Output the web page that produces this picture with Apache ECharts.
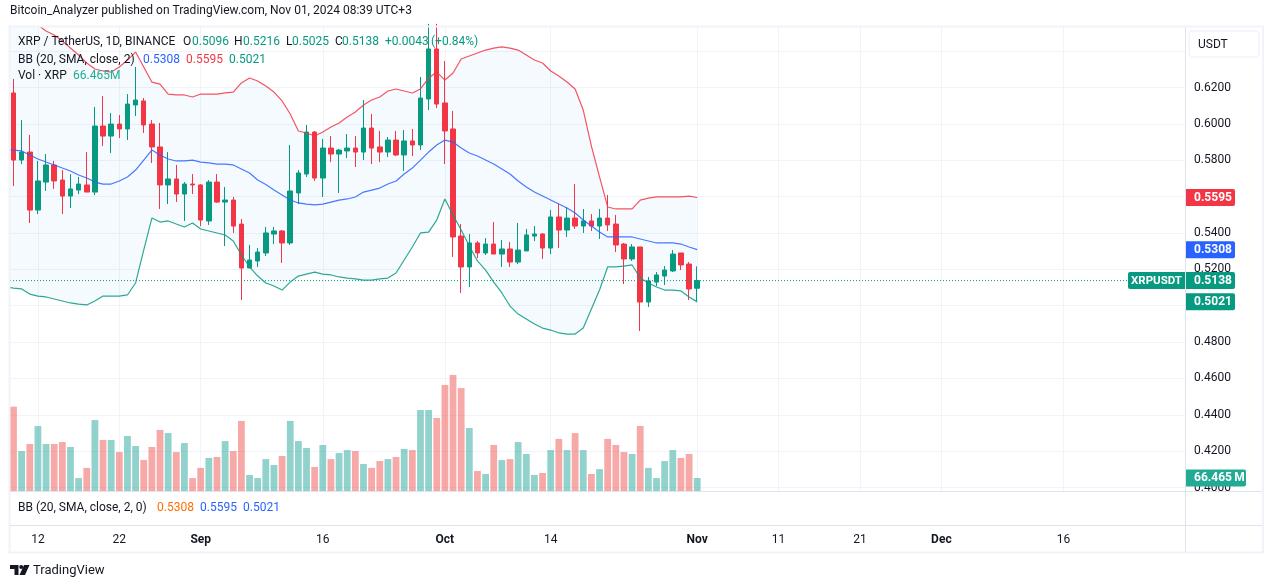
<!DOCTYPE html>
<html>
<head>
<meta charset="utf-8">
<style>html,body{margin:0;padding:0;background:#fff}#main{width:1273px;height:588px}</style>
<script src="https://cdn.jsdelivr.net/npm/echarts@6/dist/echarts.min.js"></script>
</head>
<body>
<div id="main"></div>
<script>
// day index 0 = Aug 9 2024, last candle (84) = Nov 1 2024
const tickDays = [3, 13, 23, 38, 53, 66, 84, 94, 104, 114, 129]
const tickLabels = ['12', '22', 'Sep', '16', 'Oct', '14', 'Nov', '11', '21', 'Dec', '16']
const priceTicks = [0.40, 0.42, 0.44, 0.46, 0.48, 0.50, 0.52, 0.54, 0.56, 0.58, 0.60, 0.62, 0.64]

const opens = [.6170,.5801,.5845,.5526,.5680,.5774,.5691,.5603,.5636,.5664,
  .5625,.5988,.5933,.5999,.5972,.6104,.6126,.5999,.5873,.5664,
  .5697,.5614,.5669,.5664,.5466,.5680,.5570,.5581,.5449,.5207,
  .5246,.5290,.5394,.5411,.5345,.5620,.5724,.5955,.5702,.5867,
  .5834,.5851,.5867,.5845,.5977,.5873,.5845,.5911,.5829,.5906,
  .5884,.6137,.6412,.6115,.5972,.5383,.5213,.5345,.5290,.5339,
  .5284,.5312,.5240,.5301,.5383,.5394,.5317,.5488,.5416,.5482,
  .5438,.5466,.5438,.5482,.5449,.5339,.5257,.5323,.5020,.5130,
  .5163,.5191,.5290,.5229,.5096]
const closes = [.5801,.5845,.5526,.5686,.5774,.5686,.5603,.5642,.5669,.5625,
  .5988,.5933,.5999,.5972,.6109,.6131,.5994,.5873,.5664,.5697,
  .5614,.5669,.5664,.5471,.5680,.5570,.5581,.5438,.5207,.5251,
  .5295,.5400,.5411,.5345,.5631,.5730,.5955,.5702,.5867,.5834,
  .5856,.5867,.5845,.5977,.5867,.5845,.5911,.5829,.5906,.5884,
  .6142,.6412,.6109,.5961,.5378,.5213,.5345,.5290,.5339,.5284,
  .5312,.5240,.5306,.5389,.5394,.5317,.5488,.5416,.5482,.5438,
  .5466,.5438,.5482,.5444,.5334,.5257,.5323,.5020,.5136,.5169,
  .5196,.5284,.5224,.5092,.5138]
const lows = [.5658,.5779,.5455,.5504,.5631,.5642,.5504,.5537,.5614,.5625,
  .5609,.5878,.5840,.5922,.5911,.6043,.5950,.5785,.5532,.5559,
  .5570,.5466,.5614,.5438,.5444,.5565,.5328,.5400,.5031,.5207,
  .5213,.5273,.5339,.5235,.5334,.5559,.5708,.5686,.5598,.5790,
  .5620,.5812,.5763,.5801,.5779,.5790,.5818,.5823,.5741,.5823,
  .5856,.6076,.6087,.5779,.5268,.5070,.5103,.5262,.5279,.5284,
  .5213,.5213,.5229,.5301,.5356,.5257,.5284,.5317,.5378,.5422,
  .5400,.5411,.5367,.5411,.5295,.5119,.5246,.4861,.4993,.5108,
  .5114,.5185,.5196,.5031,.5025]
const highs = [.6247,.6021,.5939,.5796,.5834,.5796,.5746,.5724,.5708,.5845,
  .6093,.6153,.6060,.6049,.6164,.6313,.6142,.6021,.6005,.5845,
  .5774,.5680,.5724,.5669,.5691,.5724,.5653,.5598,.5477,.5334,
  .5317,.5433,.5433,.5416,.5884,.5746,.5994,.5961,.5917,.5933,
  .5862,.5944,.5933,.6131,.6054,.5961,.5928,.5961,.5966,.5972,
  .6258,.6550,.6550,.6346,.6071,.5449,.5394,.5356,.5372,.5460,
  .5361,.5350,.5455,.5422,.5438,.5400,.5526,.5559,.5543,.5669,
  .5532,.5504,.5532,.5609,.5499,.5345,.5339,.5323,.5158,.5185,
  .5218,.5306,.5290,.5240,.5216]
// volume in millions
const volumes = [431,204,240,332,240,240,250,225,66,118,
  363,261,261,199,281,230,158,225,312,296,
  199,245,66,118,169,174,255,204,358,82,
  66,163,133,179,358,255,220,123,235,163,
  194,209,204,138,118,153,163,174,215,209,
  414,414,373,542,593,526,322,102,87,235,
  158,163,250,189,82,92,209,266,209,296,
  209,87,112,266,235,199,189,332,118,66,
  153,209,169,189,66.465]

// Bollinger bands start one day before the first visible candle
const bbBasis = [.5856,.5856,.5851,.5829,.5807,.5790,.5774,.5757,.5741,.5719,.5702,
  .5680,.5669,.5669,.5686,.5708,.5746,.5801,.5856,.5829,.5807,
  .5796,.5796,.5801,.5790,.5785,.5779,.5779,.5774,.5752,.5730,
  .5691,.5666,.5636,.5609,.5581,.5565,.5559,.5554,.5559,.5570,
  .5581,.5587,.5598,.5625,.5636,.5647,.5669,.5686,.5724,.5757,
  .5801,.5845,.5884,.5911,.5900,.5867,.5840,.5823,.5801,.5779,
  .5752,.5724,.5686,.5653,.5625,.5603,.5581,.5559,.5537,.5510,
  .5471,.5438,.5405,.5378,.5378,.5378,.5378,.5367,.5356,.5345,
  .5345,.5345,.5339,.5323,.5308]
const bbUpper = [.6690,.6654,.6615,.6571,.6544,.6511,.6489,.6456,.6417,.6379,.6335,
  .6302,.6291,.6285,.6313,.6351,.6395,.6313,.6230,.6219,.6164,
  .6159,.6159,.6148,.6164,.6164,.6164,.6170,.6175,.6225,.6252,
  .6236,.6208,.6175,.6126,.6054,.5961,.5950,.5933,.5955,.5983,
  .6005,.6038,.6065,.6104,.6131,.6148,.6181,.6192,.6181,.6170,
  .6192,.6252,.6285,.6241,.6280,.6357,.6373,.6390,.6406,.6417,
  .6423,.6417,.6406,.6379,.6351,.6335,.6291,.6263,.6230,.6192,
  .6076,.5878,.5708,.5543,.5532,.5532,.5532,.5581,.5592,.5598,
  .5598,.5598,.5598,.5603,.5595]
const bbLower = [.5103,.5097,.5092,.5064,.5053,.5048,.5037,.5026,.5015,.5009,.5004,
  .5026,.5053,.5053,.5053,.5059,.5125,.5306,.5482,.5460,.5466,
  .5449,.5433,.5455,.5422,.5411,.5400,.5389,.5356,.5279,.5213,
  .5163,.5125,.5108,.5086,.5130,.5163,.5174,.5185,.5174,.5169,
  .5158,.5152,.5147,.5141,.5141,.5147,.5152,.5180,.5251,.5323,
  .5400,.5405,.5471,.5587,.5499,.5416,.5328,.5246,.5196,.5130,
  .5070,.4998,.4954,.4927,.4899,.4877,.4866,.4850,.4844,.4844,
  .4877,.4982,.5086,.5213,.5213,.5218,.5224,.5152,.5125,.5103,
  .5086,.5086,.5081,.5048,.5021]

const UP = '#089981'
const DOWN = '#f23645'
const BLUE = '#2962ff'
const TEXT = '#131722'
const FONT = 'Roboto, "Noto Sans", sans-serif'

const xMin = -0.43
const xMax = 143.93
const lastClose = closes[closes.length - 1]
const candleData = opens.map((o, i) => [i, o, closes[i], lows[i], highs[i]])
const volData = volumes.map((v, i) => ({
    value: [i, v],
    itemStyle: { color: closes[i] >= opens[i] ? 'rgba(38,166,154,.5)' : 'rgba(239,83,80,.5)' }
}))
const bbLine = arr => arr.map((v, i) => [i - 1, v])

const chart = echarts.init(document.getElementById('main'), null, { renderer: 'canvas' })

const xBase = {
    type: 'value', min: xMin, max: xMax, axisLine: { show: false }, axisTick: { show: false }
}

// one polygon between upper and lower band
function renderBand(params, api) {
    if (params.dataIndex !== 0) return null
    const top = bbUpper.map((v, i) => api.coord([i - 1, v]))
    const bottom = bbLower.map((v, i) => api.coord([i - 1, v])).reverse()
    return {
        type: 'polygon', silent: true,
        shape: { points: top.concat(bottom) },
        style: { fill: 'rgba(33,150,243,.05)' }
    }
}

chart.setOption({
    animation: false,
    textStyle: { fontFamily: FONT },
    grid: [
        { left: 10, right: 88, top: 27, height: 464 },
        { left: 10, right: 88, top: 27, height: 464 }
    ],
    xAxis: [
        {
            ...xBase, gridIndex: 0,
            axisTick: { show: false, customValues: tickDays },
            splitLine: { show: true, lineStyle: { color: '#f0f3fa', width: 1 } },
            axisLabel: {
                customValues: tickDays, margin: 43, color: TEXT, fontSize: 12, fontFamily: FONT,
                hideOverlap: false, showMinLabel: true, showMaxLabel: true,
                formatter: v => {
                    const t = tickLabels[tickDays.indexOf(v)]
                    return /[A-Z]/.test(t) ? '{m|' + t + '}' : t
                },
                rich: { m: { fontWeight: 700, fontSize: 12, color: TEXT, fontFamily: FONT } }
            }
        },
        { ...xBase, gridIndex: 1, axisLabel: { show: false }, splitLine: { show: false } }
    ],
    yAxis: [
        {
            type: 'value', gridIndex: 0, position: 'right', min: 0.39808, max: 0.65328,
            axisLine: { show: false },
            axisTick: { show: false, customValues: priceTicks },
            splitLine: { show: true, lineStyle: { color: '#f0f3fa', width: 1 } },
            axisLabel: {
                customValues: priceTicks, margin: 9, color: TEXT, fontSize: 12, fontFamily: FONT,
                padding: [2, 0, 0, 0],
                hideOverlap: false, showMinLabel: true, showMaxLabel: true,
                formatter: v => v.toFixed(4)
            }
        },
        {
            type: 'value', gridIndex: 1, min: 0, max: 2371,
            axisLine: { show: false }, axisTick: { show: false },
            axisLabel: { show: false }, splitLine: { show: false }
        }
    ],
    series: [
        {
            name: 'Vol', type: 'bar', xAxisIndex: 1, yAxisIndex: 1, barWidth: 6.8,
            data: volData, silent: true
        },
        {
            name: 'BB band', type: 'custom', silent: true, clip: true,
            encode: { x: 0, y: [1, 2] },
            renderItem: renderBand,
            data: bbUpper.map((v, i) => [i - 1, v, bbLower[i]])
        },
        {
            name: 'Last price', type: 'line', showSymbol: false, silent: true,
            lineStyle: { color: UP, type: [1, 2], width: 1 },
            data: [[xMin, lastClose], [xMax, lastClose]]
        },
        {
            name: 'XRPUSDT', type: 'candlestick', barWidth: 5,
            itemStyle: { color: UP, color0: DOWN, borderColor: UP, borderColor0: DOWN, borderWidth: 1 },
            data: candleData
        },
        {
            name: 'BB basis', type: 'line', showSymbol: false, silent: true,
            lineStyle: { color: BLUE, width: 1.2, opacity: .85 }, data: bbLine(bbBasis)
        },
        {
            name: 'BB upper', type: 'line', showSymbol: false, silent: true,
            lineStyle: { color: DOWN, width: 1.2, opacity: .85 }, data: bbLine(bbUpper)
        },
        {
            name: 'BB lower', type: 'line', showSymbol: false, silent: true,
            lineStyle: { color: UP, width: 1.2, opacity: .85 }, data: bbLine(bbLower)
        }
    ]
})

// frame, separators, header texts and price tags
function line(x1, y1, x2, y2, color, width) {
    return { type: 'line', silent: true, z: 50, shape: { x1, y1, x2, y2 }, style: { stroke: color, lineWidth: width } }
}
function txt(x, y, text, fill, font) {
    return {
        type: 'text', x, y, z: 60, silent: true,
        style: { text, font: font || '12px ' + FONT, fill: fill || TEXT, verticalAlign: 'middle' }
    }
}
function tag(value, color, text, width, yAxisIndex) {
    const y = chart.convertToPixel({ yAxisIndex: yAxisIndex || 0 }, value)
    return [
        { type: 'rect', z: 70, silent: true, shape: { x: 1186, y: y - 8.5, width, height: 17, r: [0, 2, 2, 0] }, style: { fill: color } },
        { type: 'text', z: 71, silent: true, x: 1194, y: y + 0.5, style: { text, fill: '#fff', font: '700 12px ' + FONT, verticalAlign: 'middle' } }
    ]
}
const lastY = chart.convertToPixel({ yAxisIndex: 0 }, lastClose)

chart.setOption({
    graphic: [
        // outer frame
        { type: 'rect', z: 50, silent: true, shape: { x: 9.5, y: 26.5, width: 1253.5, height: 526 }, style: { fill: 'none', stroke: '#f0f3fa', lineWidth: 2 } },
        line(10, 491.5, 1262, 491.5, '#e0e3eb', 1),
        line(10, 525.5, 1262, 525.5, '#e0e3eb', 1),
        line(1185.5, 27, 1185.5, 552, '#e0e3eb', 1),
        // currency button
        { type: 'rect', z: 55, silent: true, shape: { x: 1189, y: 31, width: 70, height: 26, r: 4 }, style: { fill: '#fff', stroke: '#f0f3fa', lineWidth: 1.5 } },
        txt(1198, 45, 'USDT'),
        // header
        txt(10, 11, 'Bitcoin_Analyzer published on TradingView.com, Nov 01, 2024 08:39 UTC+3'),
        txt(18, 42, 'XRP / TetherUS, 1D, BINANCE'),
        txt(183, 42, 'O'), txt(192, 42, '0.5096', UP),
        txt(234, 42, 'H'), txt(243, 42, '0.5216', UP),
        txt(286, 42, 'L'), txt(292, 42, '0.5025', UP),
        txt(335, 42, 'C'), txt(342, 42, '0.5138', UP),
        txt(385, 42, '+0.0043', UP), txt(431, 42, '(+0.84%)', UP),
        txt(18, 60, 'BB (20, SMA, close, 2)'),
        txt(143, 60, '0.5308', BLUE), txt(186, 60, '0.5595', DOWN), txt(229, 60, '0.5021', UP),
        txt(18, 76, 'Vol · XRP'), txt(73, 76, '66.465M', '#22ab94'),
        txt(18, 508, 'BB (20, SMA, close, 2, 0)'),
        txt(157, 508, '0.5308', '#ff6d00'), txt(200, 508, '0.5595', BLUE), txt(243, 508, '0.5021', BLUE),
        // last price label
        { type: 'rect', z: 70, silent: true, shape: { x: 1128, y: lastY - 8.5, width: 57, height: 17, r: [2, 0, 0, 2] }, style: { fill: UP } },
        { type: 'text', z: 71, silent: true, x: 1156.5, y: lastY + 0.5, style: { text: 'XRPUSDT', fill: '#fff', font: '700 11.5px ' + FONT, align: 'center', verticalAlign: 'middle' } },
        ...tag(bbUpper[bbUpper.length - 1], DOWN, '0.5595', 49),
        ...tag(bbBasis[bbBasis.length - 1], BLUE, '0.5308', 49),
        ...tag(lastClose, UP, '0.5138', 49),
        ...tag(bbLower[bbLower.length - 1], UP, '0.5021', 49),
        ...tag(volumes[volumes.length - 1], '#22ab94', '66.465\u2009M', 60, 1),
        // footer logo and wordmark
        { type: 'polygon', z: 60, silent: true, shape: { points: [[10, 565], [18.5, 565], [18.5, 575], [14.5, 575], [14.5, 569], [10, 569]] }, style: { fill: TEXT } },
        { type: 'polygon', z: 60, silent: true, shape: { points: [[24, 565], [29.5, 565], [25, 575], [19.5, 575]] }, style: { fill: TEXT } },
        { type: 'circle', z: 60, silent: true, shape: { cx: 21.2, cy: 567, r: 2 }, style: { fill: TEXT } },
        txt(33, 571, 'TradingView', '#131722', '13px ' + FONT)
    ]
})
</script>
</body>
</html>
